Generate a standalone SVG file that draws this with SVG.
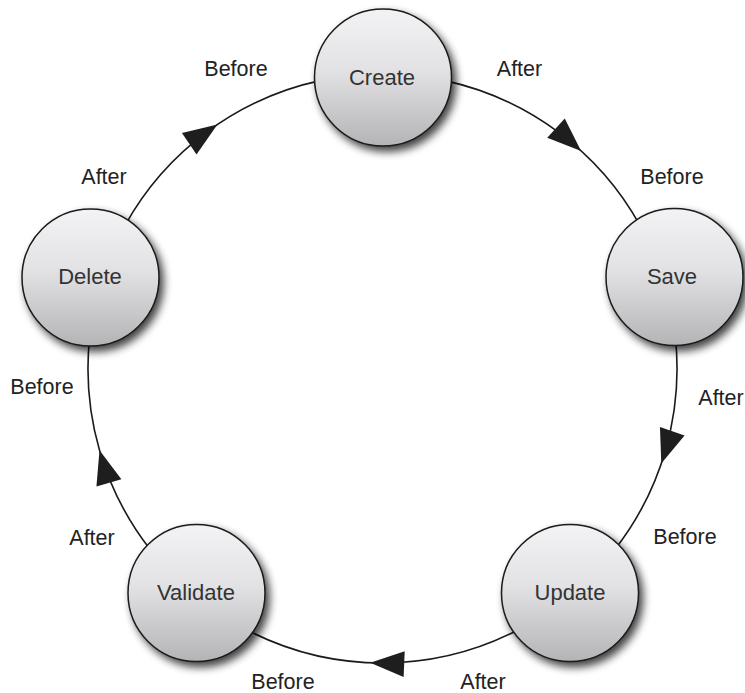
<svg xmlns="http://www.w3.org/2000/svg" width="745" height="693" viewBox="0 0 745 693">
<defs>
<linearGradient id="nodeFill" x1="0" y1="0" x2="0" y2="1">
<stop offset="0" stop-color="#f3f3f5"/>
<stop offset="0.45" stop-color="#e2e2e4"/>
<stop offset="1" stop-color="#b4b4b7"/>
</linearGradient>
<filter id="shadow" x="-30%" y="-30%" width="170%" height="170%">
<feGaussianBlur in="SourceAlpha" stdDeviation="4.5"/>
<feOffset dx="4" dy="5" result="b"/>
<feComponentTransfer><feFuncA type="linear" slope="0.75"/></feComponentTransfer>
<feMerge><feMergeNode/><feMergeNode in="SourceGraphic"/></feMerge>
</filter>
<polygon id="arrow" points="0,0 -34,-13 -34,13"/>
</defs>
<style>
.conn{fill:none;stroke:#1a1a1a;stroke-width:1.6}
.head{fill:#1e1e1e}
.node circle{fill:url(#nodeFill);stroke:#1a1a1a;stroke-width:1.5}
.node text{font-family:"Liberation Sans",Arial,sans-serif;font-size:22px;fill:#333;text-anchor:middle}
.lbl{font-family:"Liberation Sans",Arial,sans-serif;font-size:21.5px;fill:#222;text-anchor:middle}
</style>
<rect width="745" height="693" fill="#ffffff"/>
<g id="connectors">
<path class="conn" d="M443.7,80.4 A294.5,294.5 0 0 1 640.1,225.7"/>
<path class="conn" d="M675.4,337.7 A294.5,294.5 0 0 1 614.6,549.8"/>
<path class="conn" d="M520.8,628.5 A294.5,294.5 0 0 1 244.2,628.5"/>
<path class="conn" d="M150.4,549.8 A294.5,294.5 0 0 1 89.6,337.7"/>
<path class="conn" d="M124.9,225.7 A294.5,294.5 0 0 1 321.3,80.4"/>
<use href="#arrow" class="head" transform="translate(581.1,151) rotate(42.4)"/>
<use href="#arrow" class="head" transform="translate(661.3,463.4) rotate(108.8)"/>
<use href="#arrow" class="head" transform="translate(370.2,662.7) rotate(182.4)"/>
<use href="#arrow" class="head" transform="translate(99.5,450.2) rotate(253.9)"/>
<use href="#arrow" class="head" transform="translate(217.4,124.6) rotate(325.9)"/>
</g>
<g id="node-create" class="node"><circle cx="383" cy="77.5" r="68.5" filter="url(#shadow)"/><text x="382" y="84.5">Create</text></g>
<g id="node-save" class="node"><circle cx="674.5" cy="277" r="68.5" filter="url(#shadow)"/><text x="672" y="284">Save</text></g>
<g id="node-update" class="node"><circle cx="570" cy="593" r="68.5" filter="url(#shadow)"/><text x="570" y="599.5">Update</text></g>
<g id="node-validate" class="node"><circle cx="196.5" cy="593" r="68.5" filter="url(#shadow)"/><text x="196" y="599.5">Validate</text></g>
<g id="node-delete" class="node"><circle cx="90.5" cy="277.5" r="68.5" filter="url(#shadow)"/><text x="90" y="284">Delete</text></g>
<g id="labels">
<text class="lbl" x="236" y="76">Before</text>
<text class="lbl" x="519.5" y="76">After</text>
<text class="lbl" x="672" y="184">Before</text>
<text class="lbl" x="104" y="184">After</text>
<text class="lbl" x="42" y="394">Before</text>
<text class="lbl" x="721" y="405">After</text>
<text class="lbl" x="92" y="545">After</text>
<text class="lbl" x="685" y="544">Before</text>
<text class="lbl" x="283" y="689">Before</text>
<text class="lbl" x="483" y="689">After</text>
</g>
</svg>
